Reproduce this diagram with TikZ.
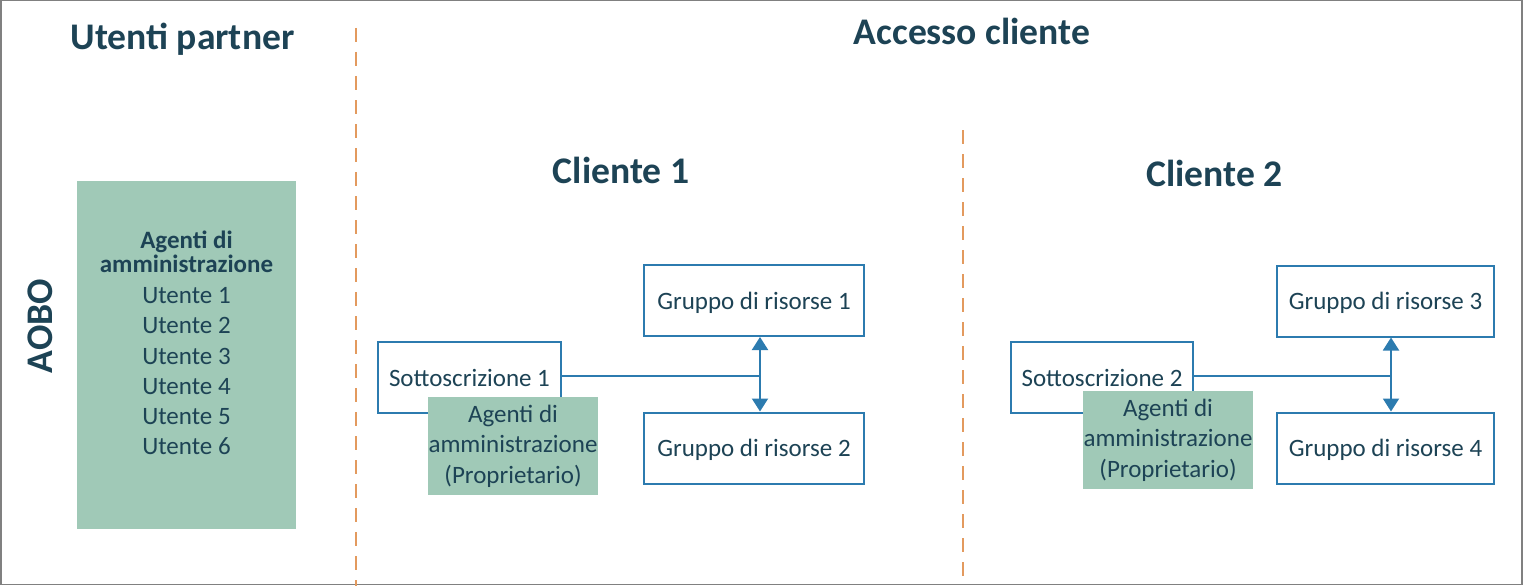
\documentclass[tikz,border=0pt]{standalone}
\usepackage{fontspec}
\setmainfont{Carlito}
\usetikzlibrary{arrows.meta}
\definecolor{txt}{HTML}{1D4355}
\definecolor{grn}{HTML}{A0C9B7}
\definecolor{blu}{HTML}{2C7BAF}
\definecolor{orn}{HTML}{E39A5E}
\definecolor{frm}{HTML}{808080}
\begin{document}
\begin{tikzpicture}[x=1pt,y=-1pt,
  heading/.style={font=\fontsize{37.6}{44}\selectfont\bfseries, text=txt, anchor=base, inner sep=0pt},
  resbox/.style={draw=blu, line width=2pt, fill=white, minimum height=71pt, text height=17pt, text depth=0pt, inner sep=0pt, font=\fontsize{25}{30}\selectfont, text=txt},
  adminbox/.style={fill=grn, inner sep=0pt, text=txt, align=center, font=\fontsize{25}{30.5}\selectfont, minimum width=170pt, minimum height=98pt},
  sepline/.style={draw=orn, line width=2pt, dash pattern=on 14pt off 10pt},
  link/.style={draw=blu, line width=2pt},
  biarrow/.style={link, {Triangle[width=16pt,length=13pt]}-{Triangle[width=16pt,length=13pt]}}
]
\useasboundingbox (0,0) rectangle (1526,586);
\draw[frm, line width=1.5pt] (0.75,0.75) rectangle (1522,584.5);

% separators
\coordinate (sepAtop) at (356,28);
\coordinate (sepAbot) at (356,586);
\coordinate (sepBtop) at (963,130);
\coordinate (sepBbot) at (963,586);
\draw[sepline] (sepAtop) -- (sepAbot);
\draw[sepline] (sepBtop) -- (sepBbot);

% headings
\node[heading] (tp) at (182.5,49) {Utenti partner};
\node[heading] (tc) at (972,45) {Accesso cliente};
\node[heading] (c1) at (621,183) {Cliente 1};
\node[heading] (c2) at (1214.5,186) {Cliente 2};
\node[heading, rotate=90] (aobo) at (52,326) {AOBO};

% partner agents box
\node[fill=grn, minimum width=219pt, minimum height=348pt, inner sep=0pt] (agents) at (186.5,355) {};
\node[text=txt, align=center, inner sep=0pt, font=\fontsize{25}{30.2}\selectfont] (agentstxt) at (186.5,343)
  {\bfseries Agenti di\\[-6.2pt]\bfseries amministrazione\\[0.8pt]Utente 1\\Utente 2\\Utente 3\\Utente 4\\Utente 5\\Utente 6};

% customer 1
\node[resbox, minimum width=183pt] (s1) at (469.5,377.5) {Sottoscrizione 1};
\node[resbox, minimum width=220pt] (g1) at (754,300.5) {Gruppo di risorse 1};
\node[resbox, minimum width=220pt] (g2) at (754,448) {Gruppo di risorse 2};
\node[adminbox] (a1) at (513,446) {Agenti di\\amministrazione\\(Proprietario)};
\coordinate (j1) at (760,376);
\draw[link] (s1.east |- j1) -- (j1);
\draw[biarrow] (g1.south -| j1) -- (g2.north -| j1);

% customer 2
\node[resbox, minimum width=182pt] (s2) at (1102,377.5) {Sottoscrizione 2};
\node[resbox, minimum width=217pt] (g3) at (1385.5,301) {Gruppo di risorse 3};
\node[resbox, minimum width=217pt] (g4) at (1385.5,448) {Gruppo di risorse 4};
\node[adminbox] (a2) at (1168,440) {Agenti di\\amministrazione\\(Proprietario)};
\coordinate (j2) at (1391,376);
\draw[link] (s2.east |- j2) -- (j2);
\draw[biarrow] (g3.south -| j2) -- (g4.north -| j2);
\end{tikzpicture}
\end{document}
